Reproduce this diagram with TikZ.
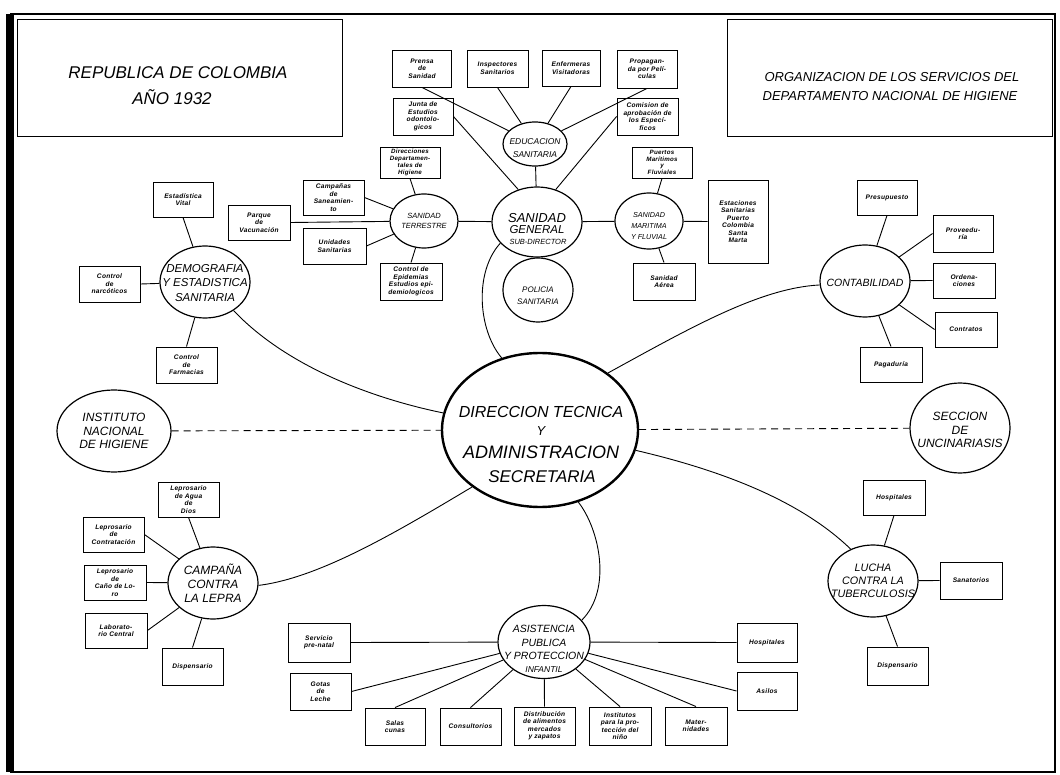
\documentclass[tikz,border=0pt]{standalone}
\usepackage{fontspec}
\usetikzlibrary{shapes.geometric}
\newfontfamily\hand{Liberation Sans}
\newfontfamily\handb[LetterSpace=4]{Liberation Sans}
\newcommand\fs[2]{\fontsize{#1}{#2}\selectfont}
\begin{document}
\begin{tikzpicture}[x=1pt,y=-1pt,
  bx/.style={draw,line width=0.9pt,align=center,inner sep=0.5pt,font=\handb\bfseries\itshape\fs{6.6}{7.5}},
  tight/.style={font=\handb\bfseries\itshape\fs{6.2}{6.8}},
  cir/.style={draw,ellipse,line width=1.2pt,inner sep=0pt},
  ct/.style={align=center,inner sep=0pt},
  ln/.style={line width=0.9pt}]
\useasboundingbox (0,0) rectangle (1060,775);
\fill[white] (0,0) rectangle (1060,775);
% frame
\draw[line width=2.2pt] (11,14) rectangle (1055,772);
\fill (6,14) rectangle (14,772);
\draw[line width=1pt] (17,20) rectangle (342,137);
\draw[line width=1pt] (727,20) rectangle (1052,137);
\node[ct,font=\hand\itshape\fs{17}{17}] (t1) at (178,73) {REPUBLICA DE COLOMBIA};
\node[ct,font=\hand\itshape\fs{17}{17}] (t2) at (172,97) {AÑO 1932};
\node[ct,font=\hand\itshape\fs{13}{13}] (t3) at (892,77) {ORGANIZACION DE LOS SERVICIOS DEL};
\node[ct,font=\hand\itshape\fs{13}{13}] (t4) at (890,96) {DEPARTAMENTO NACIONAL DE HIGIENE};
% ellipses
\node[cir,line width=2.4pt,minimum width=196,minimum height=154] (dir) at (540,430) {};
\node[ct,font=\hand\itshape\fs{16}{16}] (dir1) at (541,412) {DIRECCION TECNICA};
\node[ct,font=\hand\itshape\fs{13}{13}] (dir2) at (541,431) {Y};
\node[ct,font=\hand\itshape\fs{18}{18}] (dir3) at (541,452) {ADMINISTRACION};
\node[ct,font=\hand\itshape\fs{17}{17}] (dir4) at (542,477) {SECRETARIA};
\node[cir,minimum width=90,minimum height=70] (sg) at (537,222) {};
\node[ct,font=\hand\itshape\fs{13}{13}] (sg1) at (537,218) {SANIDAD};
\node[ct,font=\hand\itshape\fs{11.5}{11.5}] (sg2) at (537,230) {GENERAL};
\node[ct,font=\hand\itshape\fs{7.5}{7.5}] (sg3) at (538,241.5) {SUB-DIRECTOR};
\node[cir,minimum width=68,minimum height=54] (terr) at (424,221) {};
\node[ct,font=\hand\itshape\fs{7.5}{10}] (terrt) at (424,221) {SANIDAD\\TERRESTRE};
\node[cir,minimum width=68,minimum height=56] (mar) at (649,221) {};
\node[ct,font=\hand\itshape\fs{7.2}{11}] (mart) at (649,226) {SANIDAD\\MARITIMA\\Y FLUVIAL};
\node[cir,minimum width=70,minimum height=64] (pol) at (538,290) {};
\node[ct,font=\hand\itshape\fs{8}{12}] (polt) at (538,296) {POLICIA\\SANITARIA};
\node[cir,minimum width=64,minimum height=44] (edu) at (535,144) {};
\node[ct,font=\hand\itshape\fs{8.5}{13}] (edut) at (535,148.5) {EDUCACION\\SANITARIA};
\node[cir,minimum width=90,minimum height=72] (demog) at (205,282) {};
\node[ct,font=\hand\itshape\fs{11.5}{14.5}] (demogt) at (205,283) {DEMOGRAFIA\\Y ESTADISTICA\\SANITARIA};
\node[cir,minimum width=90,minimum height=72] (contab) at (865,281) {};
\node[ct,font=\hand\itshape\fs{10.5}{10.5}] (contabt) at (865,283) {CONTABILIDAD};
\node[cir,minimum width=114,minimum height=82] (inst) at (114,431) {};
\node[ct,font=\hand\itshape\fs{12}{13.5}] (instt) at (114,431) {INSTITUTO\\NACIONAL\\DE HIGIENE};
\node[cir,minimum width=100,minimum height=90] (secc) at (960,428) {};
\node[ct,font=\hand\itshape\fs{12}{13.5}] (secct) at (960,430) {SECCION\\DE\\UNCINARIASIS};
\node[cir,minimum width=90,minimum height=72] (camp) at (213,583) {};
\node[ct,font=\hand\itshape\fs{12}{14}] (campt) at (213,583) {CAMPAÑA\\CONTRA\\LA LEPRA};
\node[cir,minimum width=90,minimum height=72] (lucha) at (873,581) {};
\node[ct,font=\hand\itshape\fs{10.8}{13}] (luchat) at (873,581) {LUCHA\\CONTRA LA\\TUBERCULOSIS};
\node[cir,minimum width=92,minimum height=73] (asist) at (544,642) {};
\node[ct,font=\hand\itshape\fs{10.5}{13.3}] (asistt) at (544,649) {ASISTENCIA\\PUBLICA\\Y PROTECCION\\{\fs{8.5}{13.3}INFANTIL}};
% boxes
\node[bx,minimum width=59,minimum height=37] (prensa) at (422,68.5) {Prensa\\de\\Sanidad};
\node[bx,minimum width=61,minimum height=37] (insp) at (497.5,68.5) {Inspectores\\Sanitarios};
\node[bx,minimum width=58,minimum height=36] (enf) at (571,68) {Enfermeras\\Visitadoras};
\node[bx,minimum width=60,minimum height=38] (prop) at (647,69) {Propagan-\\da por Pelí-\\culas};
\node[bx,minimum width=60,minimum height=37] (junta) at (423,116.5) {Junta de\\Estudios\\odontolo-\\gicos};
\node[bx,minimum width=61,minimum height=37] (comis) at (647.5,116.5) {Comision de\\aprobación de\\los Especí-\\ficos};
\node[bx,tight,minimum width=60,minimum height=31] (direc) at (410,162.5) {Direcciones\\Departamen-\\tales de\\Higiene};
\node[bx,minimum width=61,minimum height=35] (campan) at (333.5,197.5) {Campañas\\de\\Saneamien-\\to};
\node[bx,minimum width=62,minimum height=35] (parque) at (259,222.5) {Parque\\de\\Vacunación};
\node[bx,minimum width=63,minimum height=36] (unid) at (334.5,246) {Unidades\\Sanitarias};
\node[bx,minimum width=62,minimum height=37] (ctrlep) at (411,281.5) {Control de\\Epidemias\\Estudios epi-\\demiologicos};
\node[bx,tight,minimum width=60,minimum height=31] (puertos) at (662,162.5) {Puertos\\Marítimos\\y\\Fluviales};
\node[bx,minimum width=60,minimum height=83] (estac) at (738,221.5) {Estaciones\\Sanitarias\\Puerto\\Colombia\\Santa\\Marta};
\node[bx,minimum width=62,minimum height=37] (aerea) at (664,281.5) {Sanidad\\Aérea};
\node[bx,minimum width=60,minimum height=35] (presup) at (887,197.5) {Presupuesto};
\node[bx,minimum width=60,minimum height=37] (provee) at (963,233.5) {Proveedu-\\ría};
\node[bx,minimum width=62,minimum height=35] (orden) at (964,280.5) {Ordena-\\ciones};
\node[bx,minimum width=62,minimum height=35] (contr) at (966,329.5) {Contratos};
\node[bx,minimum width=62,minimum height=35] (pagad) at (891,364.5) {Pagaduría};
\node[bx,minimum width=60,minimum height=35] (estvit) at (183,199.5) {Estadística\\Vital};
\node[bx,minimum width=61,minimum height=36] (narc) at (109.5,284) {Control\\de\\narcóticos};
\node[bx,minimum width=61,minimum height=36] (farm) at (186.5,365) {Control\\de\\Farmacias};
\node[bx,minimum width=61,minimum height=35] (agua) at (188.5,499.5) {Leprosario\\de Agua\\de\\Dios};
\node[bx,minimum width=61,minimum height=35] (contrat) at (113.5,534.5) {Leprosario\\de\\Contratación};
\node[bx,minimum width=62,minimum height=35] (cano) at (115,582.5) {Leprosario\\de\\Caño de Lo-\\ro};
\node[bx,minimum width=62,minimum height=35] (lab) at (116,630.5) {Laborato-\\rio Central};
\node[bx,minimum width=61,minimum height=37] (disp) at (192.5,666.5) {Dispensario};
\node[bx,minimum width=62,minimum height=35] (hosp) at (894,497.5) {Hospitales};
\node[bx,minimum width=62,minimum height=37] (sanat) at (971,580.5) {Sanatorios};
\node[bx,minimum width=61,minimum height=38] (disp2) at (897.5,666) {Dispensario};
\node[bx,minimum width=62,minimum height=39] (prenat) at (319,642.5) {Servicio\\pre-natal};
\node[bx,minimum width=61,minimum height=37] (gotas) at (320.5,691.5) {Gotas\\de\\Leche};
\node[bx,minimum width=60,minimum height=37] (salas) at (395,726.5) {Salas\\cunas};
\node[bx,minimum width=61,minimum height=37] (consul) at (470.5,726.5) {Consultorios};
\node[bx,minimum width=61,minimum height=38] (distr) at (544.5,726) {Distribución\\de alimentos\\mercados\\y zapatos};
\node[bx,minimum width=62,minimum height=38] (instit) at (620,726) {Institutos\\para la pro-\\tección del\\niño};
\node[bx,minimum width=62,minimum height=38] (mater) at (696,726) {Mater-\\nidades};
\node[bx,minimum width=60,minimum height=39] (hosp2) at (767,642.5) {Hospitales};
\node[bx,minimum width=60,minimum height=38] (asilos) at (767,691) {Asilos};
% connectors
\begin{scope}[ln]
\draw (prensa.south) -- (edu);
\draw (insp.south) -- (edu);
\draw (enf.south) -- (edu);
\draw (prop.south) -- (edu);
\draw (junta.east) -- (sg.120);
\draw (comis.west) -- (sg.60);
\draw (edu) -- (sg);
\draw (sg) -- (pol);
\draw (sg) -- (terr);
\draw (sg) -- (mar);
\draw (direc.south) -- (terr);
\draw (campan.east) -- (terr);
\draw (parque.east) -- (terr);
\draw (unid.east) -- (terr);
\draw (ctrlep.north) -- (terr);
\draw (puertos.south) -- (mar);
\draw (estac.west) -- (mar);
\draw (aerea.north) -- (mar);
\draw (presup.south) -- (contab);
\draw (provee.west) -- (contab);
\draw (orden.west) -- (contab);
\draw (contr.west) -- (contab);
\draw (pagad.north) -- (contab);
\draw (estvit.south) -- (demog);
\draw (narc.east) -- (demog);
\draw (farm.north) -- (demog);
\draw (agua.south) -- (camp);
\draw (contrat.east) -- (camp);
\draw (cano.east) -- (camp);
\draw (lab.east) -- (camp);
\draw (disp.north) -- (camp);
\draw (hosp.south) -- (lucha);
\draw (sanat.west) -- (lucha);
\draw (disp2.north) -- (lucha);
\draw (prenat.east) -- (asist);
\draw (gotas.east) -- (asist);
\draw (salas.north) -- (asist);
\draw (consul.north) -- (asist);
\draw (distr.north) -- (asist);
\draw (instit.north) -- (asist);
\draw (mater.north) -- (asist);
\draw (hosp2.west) -- (asist);
\draw (asilos.west) -- (asist);
\draw (dir.118) .. controls (478,330) and (474,272) .. (sg.210);
\draw (demog.-45) .. controls (290,370) and (380,400) .. (dir.170);
\draw (dir.40) .. controls (690,328) and (760,288) .. (contab.185);
\draw (dir.220) .. controls (400,530) and (320,578) .. (camp.-3);
\draw (dir.-12) .. controls (720,470) and (800,500) .. (lucha.125);
\draw (dir.-62) .. controls (600,530) and (612,590) .. (asist.30);
\draw[dash pattern=on 7pt off 5pt] (inst) -- (dir);
\draw[dash pattern=on 7pt off 5pt] (dir) -- (secc);
\end{scope}
\end{tikzpicture}
\end{document}
